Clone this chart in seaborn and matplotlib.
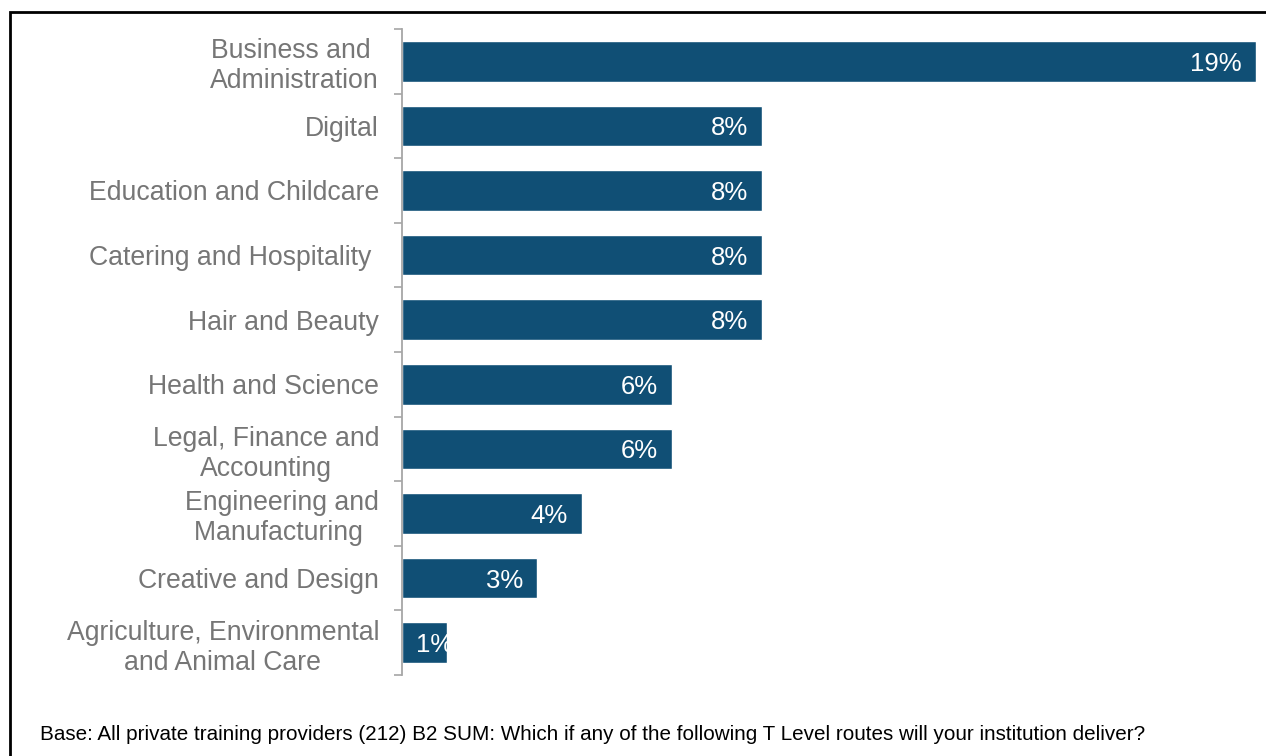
import matplotlib
matplotlib.use("Agg")
import matplotlib.pyplot as plt
from matplotlib.patches import Rectangle
from matplotlib.ticker import FixedLocator
import pandas as pd
import seaborn as sns

routes = [
    "Business and \nAdministration",
    "Digital",
    "Education and Childcare",
    "Catering and Hospitality ",
    "Hair and Beauty",
    "Health and Science",
    "Legal, Finance and\nAccounting",
    "Engineering and\nManufacturing ",
    "Creative and Design",
    "Agriculture, Environmental\nand Animal Care",
]
shares = [19, 8, 8, 8, 8, 6, 6, 4, 3, 1]
value_labels = ["19%", "8%", "8%", "8%", "8%", "6%", "6%", "4%", "3%", "1%"]
footnote = ("Base: All private training providers (212) B2 SUM: Which if any of the "
            "following T Level routes will your institution deliver?")

bar_color = "#104F75"
label_grey = "#767676"
axis_grey = "#A6A6A6"

sns.set_theme(style="white")
plt.rcParams["font.family"] = ["Liberation Sans", "DejaVu Sans"]

df = pd.DataFrame({"route": routes, "share": shares})

fig = plt.figure(figsize=(12.66, 7.56), dpi=100)
ax = fig.add_axes([402 / 1266, 1 - 675 / 756, (1256 - 402) / 1266, (675 - 29) / 756])

sns.barplot(data=df, y="route", x="share", orient="h", color=bar_color,
            saturation=1, width=0.63, ax=ax)

ax.set_xlim(0, 19)
ax.set_ylim(len(routes) - 0.5, -0.5)
ax.set_xlabel("")
ax.set_ylabel("")
ax.set_xticks([])

for side in ["top", "right", "bottom"]:
    ax.spines[side].set_visible(False)
ax.spines["left"].set_color(axis_grey)
ax.spines["left"].set_linewidth(1.3)

# category names centred on bars, tick marks at category boundaries
ax.tick_params(axis="y", which="major", length=0, pad=16.5,
               labelsize=19.2, labelcolor=label_grey)
for lbl in ax.get_yticklabels():
    lbl.set_multialignment("center")
    lbl.set_linespacing(1.2)
ax.yaxis.set_minor_locator(FixedLocator([i - 0.5 for i in range(len(routes) + 1)]))
ax.tick_params(axis="y", which="minor", left=True, length=5.5, width=1.2,
               color=axis_grey)

# value labels inside the bars, clipped to each bar
for patch, val, txt in zip(ax.patches, shares, value_labels):
    cy = patch.get_y() + patch.get_height() / 2
    if val >= 2:
        t = ax.annotate(txt, xy=(val, cy), xytext=(-10, 0),
                        textcoords="offset points", ha="right",
                        va="center_baseline", color="white", fontsize=18.5)
    else:
        t = ax.annotate(txt, xy=(0, cy), xytext=(10, 0),
                        textcoords="offset points", ha="left",
                        va="center_baseline", color="white", fontsize=18.5)
    t.set_clip_path(patch)

# outer frame (left and top edges)
fig.add_artist(Rectangle((10 / 1266, -0.05), 1.2, 1 - 12 / 756 + 0.05,
                         transform=fig.transFigure, fill=False,
                         edgecolor="black", linewidth=2))

fig.text(40 / 1266, 1 - 735 / 756, footnote, ha="left", va="center",
         fontsize=14.9, color="black")

fig.savefig("out.png", dpi=100)
